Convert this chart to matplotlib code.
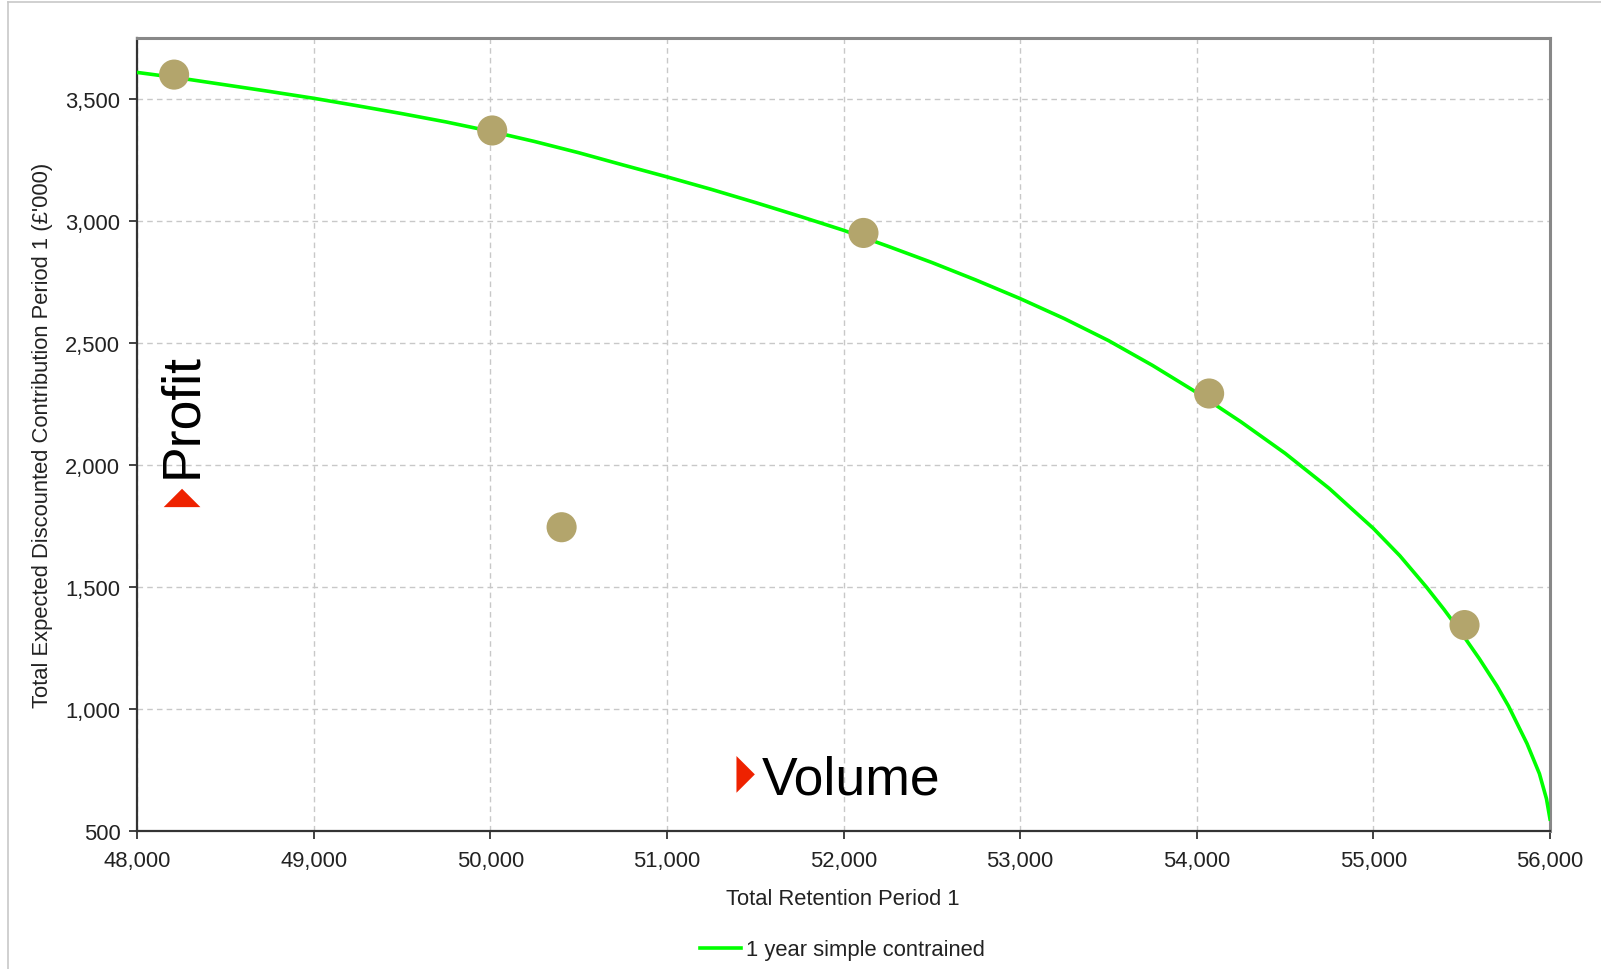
import matplotlib
matplotlib.use("Agg")
import matplotlib.pyplot as plt
from matplotlib.ticker import FuncFormatter, MultipleLocator
from matplotlib.lines import Line2D

plt.rcParams["font.family"] = ["Liberation Sans", "DejaVu Sans"]

# ── Data ──────────────────────────────────────────────────────────────────
# efficient frontier ("1 year simple contrained")
frontier_x = [48000, 48250, 48500, 48750, 49000, 49250, 49500, 49750,
              50000, 50250, 50500, 50750, 51000, 51250, 51500, 51750,
              52000, 52250, 52500, 52750, 53000, 53250, 53500, 53750,
              54000, 54250, 54500, 54750, 55000, 55150, 55300, 55400,
              55500, 55600, 55700, 55765, 55870, 55940, 55980, 56000]
frontier_y = [3609, 3585, 3558, 3531, 3503, 3472, 3440, 3406,
              3368, 3326, 3280, 3230, 3181, 3130, 3076, 3020,
              2962, 2897, 2830, 2758, 2682, 2600, 2510, 2408,
              2297, 2177, 2048, 1904, 1740, 1628, 1500, 1408,
              1310, 1206, 1094, 1012, 858, 735, 632, 549]

# scenario points
point_x = [48210, 50011, 52113, 54070, 55516, 50404]
point_y = [3600, 3371, 2951, 2293, 1344, 1745]

X_LABEL = "Total Retention Period 1"
Y_LABEL = "Total Expected Discounted Contribution Period 1 (£'000)"
LEGEND_LABEL = "1 year simple contrained"

W, H = 1601, 970
fig = plt.figure(figsize=(W / 100, H / 100), dpi=100)

# light frame round the chart (top and left edges visible)
fig.add_artist(Line2D([8 / W, 1], [1 - 3 / H, 1 - 3 / H], color="#c8c8c8", lw=1.2))
fig.add_artist(Line2D([8 / W, 8 / W], [0, 1 - 3 / H], color="#c8c8c8", lw=1.2))

left, right, top, bottom = 137, 1550, 39, 832
ax = fig.add_axes([left / W, 1 - bottom / H, (right - left) / W, (bottom - top) / H])

ax.plot(frontier_x, frontier_y, color="#00ff00", lw=2.6, zorder=3)
ax.scatter(point_x, point_y, s=470, color="#b3a56c", edgecolors="none", zorder=4)

ax.set_xlim(48000, 56000)
ax.set_ylim(500, 3750)
ax.xaxis.set_major_locator(MultipleLocator(1000))
ax.yaxis.set_major_locator(MultipleLocator(500))
fmt = FuncFormatter(lambda v, _: f"{v:,.0f}")
ax.xaxis.set_major_formatter(fmt)
ax.yaxis.set_major_formatter(fmt)
ax.tick_params(direction="out", length=6, width=1.2, colors="#222222",
               labelsize=15.8)
ax.tick_params(axis="x", pad=8)
ax.tick_params(axis="y", pad=6)
ax.grid(True, color="#c8c8c8", linestyle=(0, (4, 3)), lw=1)
ax.set_axisbelow(True)

for side in ["left", "bottom"]:
    ax.spines[side].set_color("#333333")
    ax.spines[side].set_linewidth(1.6)
for side in ["top", "right"]:
    ax.spines[side].set_color("#888888")
    ax.spines[side].set_linewidth(2.2)

# axis titles
fig.text(843 / W, 1 - 900 / H, X_LABEL, ha="center", va="center",
         fontsize=15.8, color="#222222")
fig.text(43 / W, 1 - 435 / H, Y_LABEL, ha="center", va="center",
         rotation=90, fontsize=15.8, color="#222222")

# Profit / Volume annotations with red arrow heads
up_tri = [(-1, -0.5), (1, -0.5), (0, 0.5), (-1, -0.5)]
right_tri = [(-0.5, -1), (-0.5, 1), (0.5, 0), (-0.5, -1)]
ax.text(48255, 1950, "Profit", rotation=90, ha="center", va="bottom",
        fontsize=38.5, color="black")
ax.scatter([48255], [1865], marker=up_tri, s=700, color="#ee2200",
           edgecolors="none", zorder=5)
ax.text(51537, 655, "Volume", ha="left", va="baseline", fontsize=38.5,
        color="black")
ax.scatter([51446], [732], marker=right_tri, s=700, color="#ee2200",
           edgecolors="none", zorder=5)

# legend under the chart
handle = Line2D([], [], color="#00ff00", lw=2.6)
fig.legend([handle], [LEGEND_LABEL], loc="center",
           bbox_to_anchor=(842 / W, 1 - 951 / H), frameon=False,
           fontsize=15.8, handlelength=1.9, handletextpad=0.2,
           labelcolor="#222222")

fig.savefig("out.png", dpi=100)
